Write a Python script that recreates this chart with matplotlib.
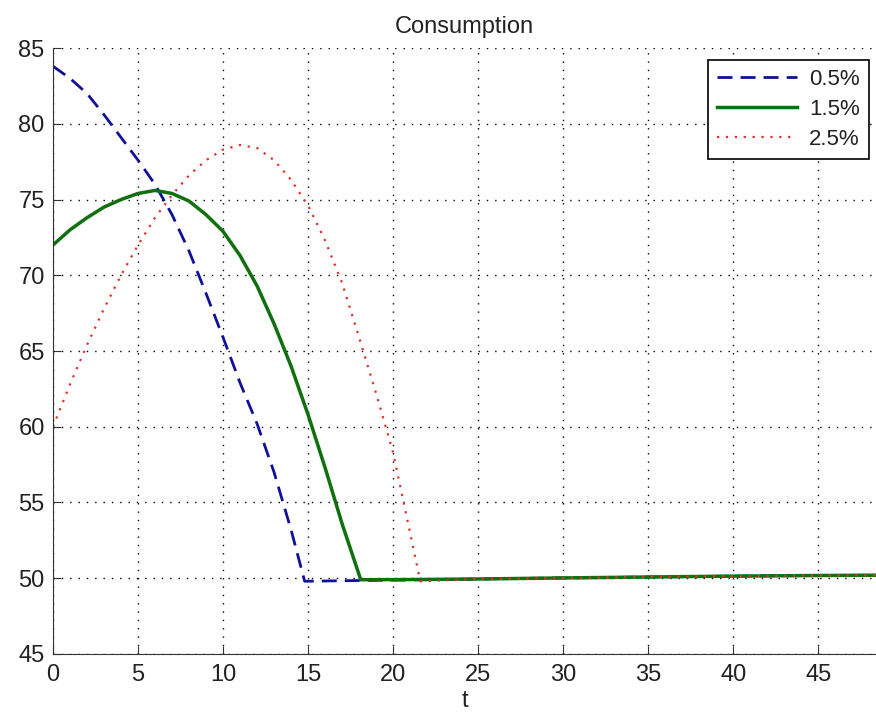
import matplotlib.pyplot as plt
import numpy as np

plt.rcParams['font.family'] = ['Liberation Sans', 'DejaVu Sans']

# common tail after the curves hit the floor
tail_t = [25, 30, 35, 40, 45, 48.5]
tail_c = [49.95, 50.02, 50.08, 50.14, 50.18, 50.2]

# 0.5%
t_05 = [0, 1, 2, 3, 4, 5, 6, 7, 8, 9, 10, 11, 12, 13, 14, 14.8, 18, 22] + tail_t
c_05 = [83.8, 83.0, 82.0, 80.6, 79.1, 77.6, 76.0, 74.0, 71.6, 68.8, 65.9, 62.9,
        60.2, 57.0, 53.2, 49.8, 49.85, 49.9] + tail_c

# 1.5%
t_15 = [0, 1, 2, 3, 4, 5, 6, 7, 8, 9, 10, 11, 12, 13, 14, 15, 16, 17, 18.1, 22] + tail_t
c_15 = [72.0, 73.0, 73.8, 74.5, 75.0, 75.4, 75.6, 75.4, 74.9, 74.0, 72.9, 71.3,
        69.3, 66.8, 64.0, 60.8, 57.3, 53.6, 49.9, 49.92] + tail_c

# 2.5%
t_25 = [0, 1, 2, 3, 4, 5, 6, 7, 8, 9, 10, 11, 12, 13, 14, 15, 16, 17, 18, 19,
        20, 21, 21.6] + tail_t
c_25 = [60.0, 62.8, 65.4, 67.8, 70.0, 72.0, 73.8, 75.3, 76.6, 77.6, 78.3, 78.6,
        78.4, 77.6, 76.3, 74.6, 72.3, 69.5, 65.9, 62.2, 58.3, 53.0, 49.8] + tail_c

labels = ['0.5%', '1.5%', '2.5%']

fig = plt.figure(figsize=(8.76, 7.12), dpi=100)
ax = fig.add_axes([0.0605, 0.0815, 0.9395, 0.851])

ax.plot(t_05, c_05, color='#10109a', lw=2, linestyle=(0, (5.4, 2.9)), label=labels[0])
ax.plot(t_15, c_15, '-', color='#107010', lw=2.5, label=labels[1])
ax.plot(t_25, c_25, color='#e03030', lw=1.6, linestyle=(0, (1, 3)), label=labels[2])

ax.set_xlim(0, 48.4)
ax.set_ylim(45, 85)
ax.set_xticks(np.arange(0, 50, 5))
ax.set_yticks(np.arange(45, 90, 5))
ax.grid(True, color='black', linestyle=(0, (1, 5)), linewidth=1)
ax.tick_params(direction='in', labelsize=17, length=6, color='#333333',
               labelcolor='#222222')
ax.tick_params(axis='x', pad=7)
ax.tick_params(axis='y', pad=6)
ax.spines['top'].set_visible(False)
ax.spines['right'].set_visible(False)
for s in ['left', 'bottom']:
    ax.spines[s].set_color('#333333')
ax.set_title('Consumption', fontsize=17, pad=11, color='#222222')
ax.set_xlabel('t', fontsize=17, labelpad=3, color='#222222')

leg = ax.legend(loc='upper right', bbox_to_anchor=(0.9915, 0.980), borderaxespad=0,
                fontsize=16, fancybox=False, framealpha=1, edgecolor='black',
                handlelength=3.6, handletextpad=0.55, labelspacing=0.4)
leg.get_frame().set_linewidth(1.2)
for txt in leg.get_texts():
    txt.set_color('#222222')

fig.savefig('out.png', dpi=100)
